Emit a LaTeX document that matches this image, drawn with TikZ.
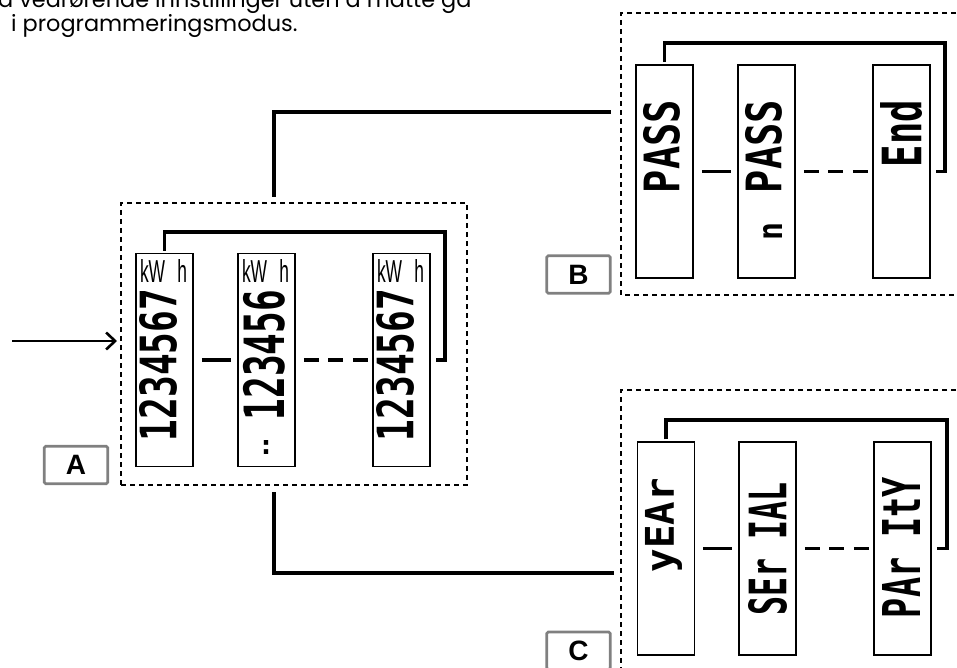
\documentclass[tikz,border=0pt]{standalone}
\usepackage{fontspec}
\setmainfont{Poppins}
\setsansfont{Liberation Sans}
\newfontfamily\segfont{DejaVu Sans Mono}
\usetikzlibrary{arrows.meta}
\newcommand{\segtxt}[3]{\resizebox*{#1pt}{#2pt}{\segfont\bfseries #3}}
\newcommand{\kwtxt}{\resizebox*{47pt}{23pt}{\sffamily kW\hspace{0.7em}h}}
\begin{document}
\begin{tikzpicture}[x=1pt,y=-1pt,
  dbox/.style={draw, dash pattern=on 5pt off 4pt, line width=1.1pt},
  disp/.style={draw, line width=1.5pt, minimum width=57pt, minimum height=213pt, inner sep=0pt},
  loopline/.style={line width=3.3pt, shorten >=5pt, shorten <=2pt},
  link/.style={line width=3.3pt, shorten <=8pt, shorten >=6pt},
  dlink/.style={line width=3.3pt, dash pattern=on 15pt off 9.5pt, dash phase=16.5pt},
  mainlink/.style={line width=3.3pt},
  tag/.style={draw=gray, line width=2.8pt, rounded corners=1.5pt, minimum width=63.5pt, minimum height=37.5pt, inner sep=0pt, font=\sffamily\bfseries\fontsize{28}{28}\selectfont},
  segtext/.style={rotate=90, inner sep=0pt},
  plain/.style={inner sep=0pt},
  para/.style={anchor=base west, inner sep=0pt, font=\fontsize{22.4}{26}\selectfont}
]
\useasboundingbox (0,0) rectangle (957,668);
\clip (0,0) rectangle (957,668);

% top text
\node[para] (t1) at (-2,8) {a vedrørende innstillinger uten å måtte gå};
\node[para] (t2) at (11,32) {i programmeringsmodus.};

% dashed frames
\node[dbox, minimum width=346pt, minimum height=282pt] (boxA) at (294,344) {};
\draw[dbox] (965,13) -| (621,295) -- (965,295);
\draw[dbox] (965,390) -| (621,680);

% group A displays
\node[disp] (a1) at (164.5,360) {};
\node[disp] (a2) at (266.5,360) {};
\node[disp] (a3) at (401.5,360) {};
\node[plain] (ka1) at (163.5,271) {\kwtxt};
\node[plain] (ka2) at (265.5,271) {\kwtxt};
\node[plain] (ka3) at (400.5,271) {\kwtxt};
\node[segtext] (da1) at (158,365) {\segtxt{152}{38}{1234567}};
\node[segtext] (da2) at (264,355) {\segtxt{130}{42}{123456}};
\node[segtext] (da3) at (395,365) {\segtxt{152}{38}{1234567}};
\node[plain] (colon) at (266,447) {\resizebox*{16pt}{14pt}{\segfont\bfseries :}};
\draw[link] (a1.east) -- (a2.west);
\draw[dlink] (a2.east) -- (a3.west);
\draw[loopline] (a1.north) |- (445,232) |- (a3.east);

% group B displays
\node[disp] (b1) at (664.5,171.5) {};
\node[disp] (b2) at (766.5,171.5) {};
\node[disp] (b3) at (901.5,171.5) {};
\node[segtext] (db1) at (661.5,146.5) {\segtxt{93}{37}{PASS}};
\node[segtext] (db2) at (763.5,146.5) {\segtxt{93}{37}{PASS}};
\node[segtext] (dbn) at (772.5,231) {\segtxt{18}{19}{n}};
\node[segtext] (db3) at (901,133.5) {\segtxt{67}{42}{End}};
\draw[link] (b1.east) -- (b2.west);
\draw[dlink] (b2.east) -- (b3.west);
\draw[loopline] (b1.north) |- (945,43) |- (b3.east);

% group C displays
\node[disp] (c1) at (666,548.5) {};
\node[disp] (c2) at (767.5,548.5) {};
\node[disp] (c3) at (902.5,548.5) {};
\node[segtext] (dc1) at (663.5,525) {\segtxt{94}{37}{yEAr}};
\node[segtext] (dc2) at (767.5,548.5) {\segtxt{133}{39}{SEr IAL}};
\node[segtext] (dc3) at (901,547.5) {\segtxt{141}{38}{PAr ItY}};
\draw[link] (c1.east) -- (c2.west);
\draw[dlink] (c2.east) -- (c3.west);
\draw[loopline] (c1.north) |- (947,420) |- (c3.east);

% main connectors
\coordinate (aT) at (274,197);
\coordinate (bIn) at (611,112);
\coordinate (aB) at (274,492);
\coordinate (cIn) at (614,573);
\draw[mainlink] (aT) |- (bIn);
\draw[mainlink] (aB) |- (cIn);

% entry arrow
\coordinate (start) at (12,341);
\coordinate (entry) at (117,341);
\draw[line width=2.6pt, -{Straight Barb[length=9pt, width=17pt, line width=2.6pt]}] (start) -- (entry);

% tags
\node[tag] (la) at (76,465) {A};
\node[tag] (lb) at (578.5,274.5) {B};
\node[tag] (lc) at (578.5,650.75) {C};
\end{tikzpicture}
\end{document}
